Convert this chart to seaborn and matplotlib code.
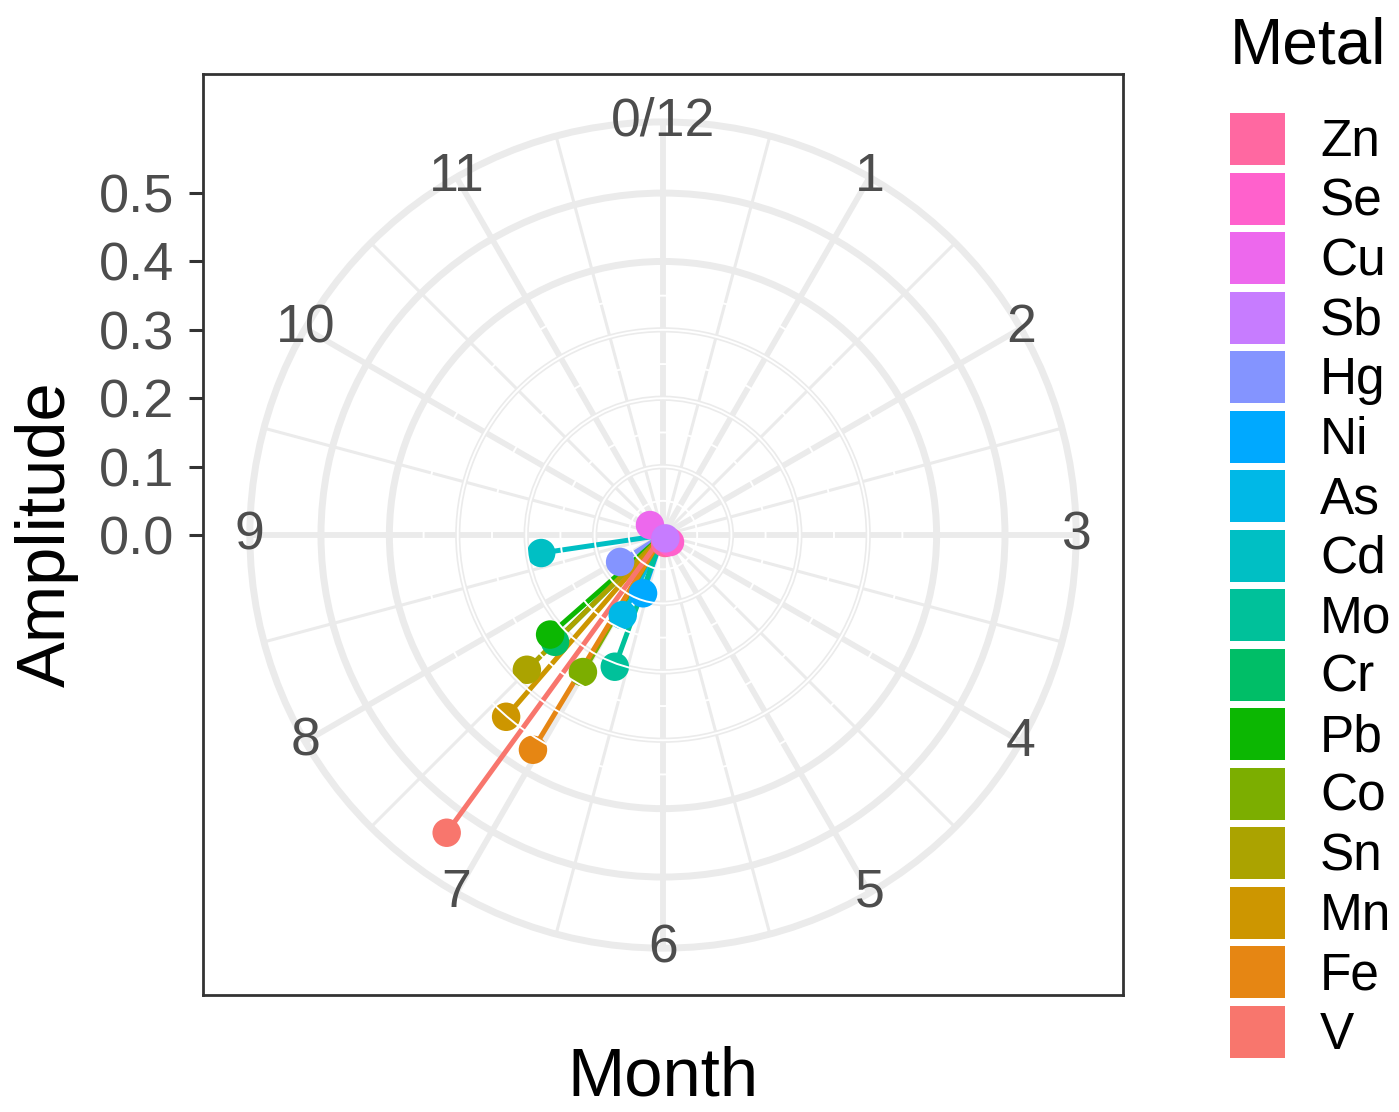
import numpy as np
import pandas as pd
import seaborn as sns
import matplotlib.pyplot as plt
from matplotlib.patches import Circle, Patch

# data (month of peak, amplitude)
metals = ['Zn', 'Se', 'Cu', 'Sb', 'Hg', 'Ni', 'As', 'Cd',
          'Mo', 'Cr', 'Pb', 'Co', 'Sn', 'Mn', 'Fe', 'V']
peak_month = [5.5, 4.5, 10.25, 4.8, 7.93, 6.63, 6.89, 8.72,
              6.67, 7.51, 7.62, 7.01, 7.51, 7.36, 7.04, 7.20]
amplitude = [0.012, 0.0145, 0.024, 0.006, 0.074, 0.090, 0.131, 0.180,
             0.205, 0.222, 0.220, 0.232, 0.280, 0.351, 0.367, 0.538]
colors = ['#FF68A1', '#FF61CC', '#ED68ED', '#C77CFF', '#8494FF', '#00A9FF',
          '#00B8E7', '#00BFC4', '#00C19A', '#00BE67', '#0CB702', '#7CAE00',
          '#ABA300', '#CD9600', '#E68613', '#F8766D']
month_labels = ['0/12', '1', '2', '3', '4', '5', '6', '7', '8', '9', '10', '11']
amp_ticks = [0.0, 0.1, 0.2, 0.3, 0.4, 0.5]

palette = dict(zip(metals, colors))

df = pd.DataFrame({'Metal': metals, 'Month': peak_month, 'Amplitude': amplitude})
theta = df['Month'] / 12 * 2 * np.pi
df['x'] = df['Amplitude'] * np.sin(theta)
df['y'] = df['Amplitude'] * np.cos(theta)

# segments from the origin to each point
origin = pd.DataFrame({'Metal': metals, 'x': 0.0, 'y': 0.0})
seg = pd.concat([origin, df[['Metal', 'x', 'y']]]).sort_index(kind='stable')

sns.set_theme(style='white')
plt.rcParams['font.family'] = ['Liberation Sans', 'DejaVu Sans']

fig = plt.figure(figsize=(13.99, 11.12), dpi=100)
ax = fig.add_axes([0.1451, 0.1052, 0.6576, 0.8282])

grid = '#EBEBEB'
r_out = 0.604

# radial grid lines
for k in range(24):
    a = k / 24 * 2 * np.pi
    lw = 4.2 if k % 2 == 0 else 2.2
    ax.plot([0, r_out * np.sin(a)], [0, r_out * np.cos(a)],
            color=grid, lw=lw, zorder=1, solid_capstyle='butt')

# circles
for r in [0.4, 0.5, r_out]:
    ax.add_patch(Circle((0, 0), r, fill=False, ec=grid, lw=5, zorder=1))
for r in [0.1, 0.2, 0.3]:
    ax.add_patch(Circle((0, 0), r, fill=False, ec=grid, lw=3.8, zorder=1))

# data
sns.lineplot(data=seg, x='x', y='y', hue='Metal', units='Metal',
             estimator=None, sort=False, palette=palette, lw=3.6,
             legend=False, ax=ax, zorder=3)
sns.scatterplot(data=df, x='x', y='y', hue='Metal', palette=palette,
                s=420, edgecolor='none', linewidth=0, legend=False,
                ax=ax, zorder=4)

# white rings drawn on top
for r in [0.05, 0.1, 0.15, 0.2, 0.25, 0.3, 0.35]:
    ax.add_patch(Circle((0, 0), r, fill=False, ec='white', lw=1.4, zorder=5))

# month labels on the outer ring
for m, lab in enumerate(month_labels):
    a = m / 12 * 2 * np.pi
    ax.text(r_out * np.sin(a), r_out * np.cos(a), lab, ha='center',
            va='center', fontsize=38.5, color='#4D4D4D', zorder=6)

ax.set_xlim(-0.6725, 0.6725)
ax.set_ylim(-0.6725, 0.674)
ax.set_xticks([])
ax.set_yticks(amp_ticks)
ax.set_yticklabels([f'{v:.1f}' for v in amp_ticks])
ax.tick_params(axis='y', left=True, length=10, width=2.2, color='#333333',
               labelsize=39, labelcolor='#4D4D4D', pad=11)
for sp in ax.spines.values():
    sp.set_color('#333333')
    sp.set_linewidth(2)
ax.set_xlabel('Month', fontsize=49.5, labelpad=36, color='black')
ax.set_ylabel('Amplitude', fontsize=49.5, labelpad=14, color='black')

# legend
fig.text(1230 / 1399, 1 - 64 / 1112, 'Metal', fontsize=46, ha='left',
         va='baseline', color='black')
handles = [Patch(facecolor=c, edgecolor='none') for c in colors]
fig.legend(handles, metals, loc='upper left',
           bbox_to_anchor=(1230 / 1399, 1 - 113 / 1112), frameon=False,
           fontsize=37, handlelength=1.07, handleheight=1.18,
           handletextpad=0.68, labelspacing=0.1, borderpad=0,
           borderaxespad=0, labelcolor='black')

fig.savefig('out.png', dpi=100)
